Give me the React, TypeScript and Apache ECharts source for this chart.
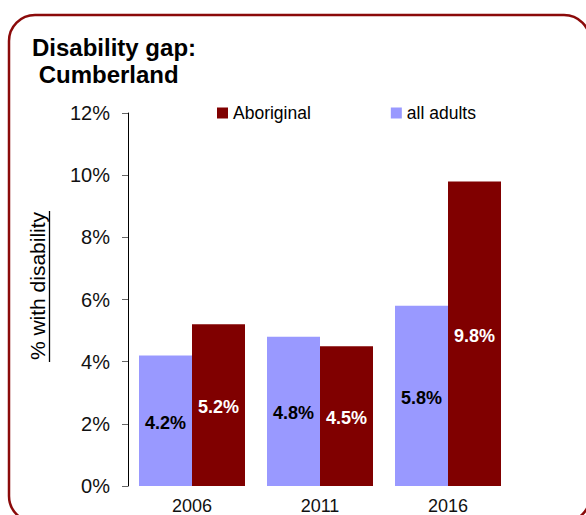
import React, { useEffect, useRef } from "react";
import * as echarts from "echarts";

const categories = ["2006", "2011", "2016"];
const allAdults = [4.2, 4.8, 5.8];
const aboriginal = [5.2, 4.5, 9.8];
const yTicks = [0, 2, 4, 6, 8, 10, 12];

const FONT = "'Liberation Sans', Arial, sans-serif";

export default function App() {
  const ref = useRef<HTMLDivElement>(null);
  useEffect(() => {
    document.body.style.margin = "0";
    const chart = echarts.init(ref.current!, null, { renderer: "svg" });
    chart.setOption({
      animation: false,
      textStyle: { fontFamily: FONT },
      title: {
        text: "Disability gap:\n Cumberland",
        left: 27,
        top: 29,
        textStyle: { fontSize: 24, fontWeight: "bold", color: "#000", lineHeight: 27, fontFamily: FONT },
      },
      legend: {
        data: ["Aboriginal", "all adults"],
        top: 99,
        left: 212,
        itemGap: 80,
        itemWidth: 11,
        itemHeight: 11,
        icon: "rect",
        textStyle: { fontSize: 17.5, color: "#000", fontFamily: FONT },
      },
      grid: { left: 128, right: 74, top: 113, bottom: 29, outerBoundsMode: "none", containLabel: false },
      xAxis: {
        type: "category",
        data: categories,
        axisLine: { show: false },
        axisTick: { show: false },
        axisLabel: { fontSize: 18, color: "#111", margin: 11, lineHeight: 18, fontFamily: FONT },
      },
      yAxis: {
        type: "value",
        min: yTicks[0],
        max: yTicks[yTicks.length - 1],
        interval: 2,
        name: "% with disability",
        nameLocation: "middle",
        nameGap: 80,
        nameRotate: 90,
        nameTextStyle: { fontSize: 21, color: "#000", fontFamily: FONT, padding: [0, 0, 0, 27] },
        splitLine: { show: false },
        axisLine: { show: true, lineStyle: { color: "#000", width: 1 } },
        axisTick: { show: true, length: 6, lineStyle: { color: "#666" } },
        axisLabel: { fontSize: 20, color: "#111", margin: 18, formatter: (v: number) => v + "%", fontFamily: FONT },
      },
      series: [
        {
          name: "all adults",
          type: "bar",
          data: allAdults,
          barWidth: 53,
          barGap: "0%",
          itemStyle: { color: "#9999ff" },
          label: {
            show: true,
            position: "inside",
            offset: [0, 2],
            formatter: (p: any) => p.value.toFixed(1) + "%",
            color: "#000",
            fontWeight: "bold",
            fontSize: 18,
            fontFamily: FONT,
          },
        },
        {
          name: "Aboriginal",
          type: "bar",
          data: aboriginal,
          barWidth: 53,
          barGap: "0%",
          itemStyle: { color: "#800000" },
          label: {
            show: true,
            position: "inside",
            offset: [0, 2],
            formatter: (p: any) => p.value.toFixed(1) + "%",
            color: "#fff",
            fontWeight: "bold",
            fontSize: 18,
            fontFamily: FONT,
          },
        },
      ],
      graphic: [
        {
          type: "rect",
          shape: { x: 9, y: 15, width: 581, height: 507, r: 26 },
          style: { fill: "none", stroke: "#8b0a0a", lineWidth: 2.5 },
          silent: true,
        },
        {
          type: "line",
          shape: { x1: 49.5, y1: 211, x2: 49.5, y2: 362 },
          style: { stroke: "#000", lineWidth: 1.3 },
          silent: true,
        },
      ],
    });
    return () => chart.dispose();
  }, []);
  return <div ref={ref} style={{ width: 586, height: 515 }} />;
}
